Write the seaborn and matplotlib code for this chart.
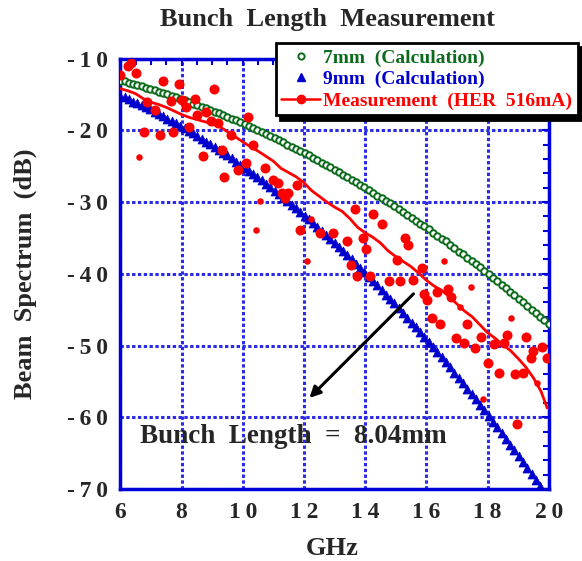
import numpy as np
import pandas as pd
import matplotlib
matplotlib.use("Agg")
import matplotlib.pyplot as plt
from matplotlib.lines import Line2D
from matplotlib.ticker import MultipleLocator
import seaborn as sns

# frequency grid of the two calculated spectra (GHz)
freq_calc = np.round(np.linspace(6, 20, 101), 2)

# 7mm gaussian bunch (dB)
calc_7mm = [-13.1, -13.2, -13.4, -13.5, -13.7, -13.9, -14.1, -14.2, -14.4, -14.6,
            -14.8, -15.0, -15.2, -15.4, -15.6, -15.8, -16.0, -16.3, -16.5, -16.7,
            -16.9, -17.2, -17.4, -17.6, -17.9, -18.1, -18.4, -18.6, -18.9, -19.1,
            -19.4, -19.7, -20.0, -20.2, -20.5, -20.8, -21.1, -21.4, -21.7, -22.0,
            -22.3, -22.6, -22.9, -23.2, -23.5, -23.8, -24.1, -24.5, -24.8, -25.1,
            -25.5, -25.8, -26.2, -26.5, -26.9, -27.2, -27.6, -27.9, -28.3, -28.7,
            -29.1, -29.4, -29.8, -30.2, -30.6, -31.0, -31.4, -31.8, -32.2, -32.6,
            -33.0, -33.4, -33.8, -34.3, -34.7, -35.1, -35.5, -36.0, -36.4, -36.9,
            -37.3, -37.8, -38.2, -38.7, -39.1, -39.6, -40.1, -40.6, -41.0, -41.5,
            -42.0, -42.5, -43.0, -43.5, -44.0, -44.5, -45.0, -45.5, -46.0, -46.5,
            -47.0]

# 9mm gaussian bunch (dB), runs off the bottom near 19.7 GHz
calc_9mm = [-15.2, -15.4, -15.7, -16.0, -16.2, -16.5, -16.8, -17.1, -17.4, -17.7,
            -18.0, -18.4, -18.7, -19.0, -19.4, -19.7, -20.1, -20.4, -20.8, -21.2,
            -21.6, -21.9, -22.3, -22.7, -23.1, -23.5, -23.9, -24.4, -24.8, -25.2,
            -25.7, -26.1, -26.5, -27.0, -27.5, -27.9, -28.4, -28.9, -29.4, -29.9,
            -30.4, -30.9, -31.4, -31.9, -32.4, -32.9, -33.5, -34.0, -34.6, -35.1,
            -35.7, -36.2, -36.8, -37.4, -38.0, -38.6, -39.2, -39.8, -40.4, -41.0,
            -41.6, -42.2, -42.9, -43.5, -44.1, -44.8, -45.4, -46.1, -46.8, -47.4,
            -48.1, -48.8, -49.5, -50.2, -50.9, -51.6, -52.3, -53.0, -53.8, -54.5,
            -55.2, -56.0, -56.7, -57.5, -58.3, -59.0, -59.8, -60.6, -61.4, -62.2,
            -63.0, -63.8, -64.6, -65.4, -66.2, -67.1, -67.9, -68.8, -69.6]

# measured spectrum, smoothed curve
meas_line_f = [6.0, 6.25, 6.5, 6.75, 7.0, 7.25, 7.5, 7.75, 8.0, 8.25, 8.5, 8.75,
               9.0, 9.25, 9.5, 9.75, 10.0, 10.25, 10.5, 10.75, 11.0, 11.25, 11.5,
               11.75, 12.0, 12.25, 12.5, 12.75, 13.0, 13.25, 13.5, 13.75, 14.0,
               14.25, 14.5, 14.75, 15.0, 15.25, 15.5, 15.75, 16.0, 16.25, 16.5,
               16.75, 17.0, 17.25, 17.5, 17.75, 18.0, 18.25, 18.5, 18.75, 19.0,
               19.25, 19.5, 19.75, 19.95]
meas_line_db = [-14.2, -14.5, -14.9, -15.6, -16.1, -16.4, -16.8, -17.3, -17.8,
                -18.2, -18.5, -18.8, -19.1, -19.5, -20.2, -20.9, -21.6, -22.3,
                -22.9, -23.6, -24.3, -25.3, -25.9, -26.5, -27.3, -28.4, -29.2,
                -30.0, -30.7, -31.3, -32.3, -33.5, -34.3, -34.9, -35.7, -36.8,
                -37.6, -38.3, -39.0, -39.9, -40.9, -41.7, -42.3, -43.2, -44.2,
                -45.2, -46.0, -47.1, -48.2, -49.0, -49.9, -50.7, -51.8, -53.0,
                -54.5, -56.4, -58.7]

# measured points
meas_f = [6.0, 6.26, 6.34, 6.51, 7.38, 7.92, 9.06, 6.87, 7.65, 8.0, 8.44, 7.13,
          8.16, 8.81, 8.52, 8.95, 9.18, 10.16, 6.76, 7.30, 7.73, 8.25, 9.61, 10.35,
          6.61, 8.69, 9.31, 9.39, 9.86, 10.1, 10.73, 11.0, 11.16, 11.27, 11.49,
          11.38, 10.57, 11.76, 10.43, 11.87, 12.22, 12.09, 12.53, 12.96, 13.4,
          13.67, 13.92, 14.03, 14.27, 14.54, 15.3, 15.41, 15.05, 13.53, 13.75,
          14.16, 14.79, 15.14, 15.58, 15.85, 16.58, 15.92, 16.03, 16.36, 16.72,
          16.8, 17.1, 17.45, 16.18, 16.45, 17.32, 16.97, 17.23, 17.59, 17.78,
          18.21, 18.54, 18.63, 18.76, 19.25, 19.77, 19.93, 19.41, 19.5, 18.03,
          18.38, 18.9, 19.15, 19.63, 17.84, 18.97]
meas_db = [-12.3, -11.1, -10.6, -12.0, -13.1, -13.6, -14.3, -16.1, -15.9, -15.8,
           -15.7, -17.2, -16.7, -17.5, -17.9, -18.7, -19.0, -18.1, -20.2, -20.6,
           -20.2, -19.5, -20.6, -22.0, -23.7, -23.6, -22.8, -26.5, -25.5, -24.5,
           -25.3, -26.9, -27.4, -28.8, -28.8, -29.5, -29.9, -27.6, -33.9, -33.9,
           -32.3, -38.2, -34.3, -34.3, -35.4, -31.0, -35.0, -36.6, -31.7, -33.1,
           -35.0, -36.0, -38.1, -38.8, -40.3, -40.3, -41.0, -41.0, -40.8, -39.2,
           -38.2, -42.8, -43.6, -42.5, -42.1, -43.3, -44.6, -41.8, -46.2, -47.0,
           -47.0, -49.0, -49.6, -50.3, -48.8, -49.8, -49.6, -48.5, -46.2, -48.8,
           -50.2, -51.8, -51.8, -50.8, -52.5, -53.8, -53.9, -53.8, -55.2, -57.5,
           -61.0]
# points that are drawn as the smaller dots
meas_small = [24, 36, 38, 40, 41, 60, 66, 67, 78, 88, 89]

x_ticks = [6, 8, 10, 12, 14, 16, 18, 20]
y_ticks = [-70, -60, -50, -40, -30, -20, -10]
y_ticklabels = ["-\u20097\u20090", "-\u20096\u20090", "-\u20095\u20090",
                "-\u20094\u20090", "-\u20093\u20090", "-\u20092\u20090",
                "-\u20091\u20090"]
x_ticklabels = ["6", "8", "1\u20090", "1\u20092", "1\u20094", "1\u20096",
                "1\u20098", "2\u20090"]

GREEN = "#0d6b1c"
BLUE = "#0000cc"
RED = "#ff0000"
FRAME = "#0000d8"
GRID = "#2b2be8"

sns.set_theme(style="white")
plt.rcParams["font.family"] = ["Liberation Serif", "DejaVu Serif"]
plt.rcParams["font.weight"] = "bold"

df7 = pd.DataFrame({"f": freq_calc, "db": calc_7mm})
df9 = pd.DataFrame({"f": freq_calc[:len(calc_9mm)], "db": calc_9mm})
dline = pd.DataFrame({"f": meas_line_f, "db": meas_line_db})
dpts = pd.DataFrame({"f": meas_f, "db": meas_db})
dpts["small"] = [i in meas_small for i in range(len(meas_f))]

fig = plt.figure(figsize=(5.82, 5.61), dpi=100)
ax = fig.add_axes([0.2067, 0.1283, 0.7361, 0.7674])

sns.scatterplot(data=df7, x="f", y="db", marker="o", s=22, color="white",
                edgecolor=GREEN, linewidth=1.4, ax=ax, zorder=3)
sns.scatterplot(data=df9, x="f", y="db", marker="^", s=42, color=BLUE,
                edgecolor=BLUE, linewidth=0.5, ax=ax, zorder=3)
sns.lineplot(data=dline, x="f", y="db", color=RED, lw=2.0, ax=ax, zorder=4,
             estimator=None, sort=False)
big = dpts[~dpts["small"]]
small = dpts[dpts["small"]]
sns.scatterplot(data=big, x="f", y="db", s=52, color=RED, linewidth=0,
                ax=ax, zorder=5)
sns.scatterplot(data=small, x="f", y="db", s=22, color=RED, linewidth=0,
                ax=ax, zorder=5)

ax.annotate("", xy=(12.18, -57.3), xytext=(15.58, -42.8),
            arrowprops=dict(arrowstyle="-|>", color="black", lw=2.2,
                            mutation_scale=16, shrinkA=0, shrinkB=0),
            zorder=6)
ax.text(6.65, -62.7, "Bunch  Length  =  8.04mm", fontsize=19.5,
        fontweight="bold", ha="left", va="center", zorder=6)

ax.set_xlim(6, 20)
ax.set_ylim(-70, -10)
ax.set_xticks(x_ticks)
ax.set_xticklabels(x_ticklabels)
ax.set_yticks(y_ticks)
ax.set_yticklabels(y_ticklabels)
ax.xaxis.set_minor_locator(MultipleLocator(0.5))
ax.yaxis.set_minor_locator(MultipleLocator(2))
ax.tick_params(which="both", direction="in", top=True, right=True,
               color=FRAME, width=1.5, labelsize=17)
ax.tick_params(which="major", length=5, pad=9)
ax.tick_params(which="minor", length=4)
ax.grid(True, which="major", color=GRID, lw=2.2, ls=(0, (1.1, 0.8)))
for sp in ax.spines.values():
    sp.set_color(FRAME)
    sp.set_linewidth(2.5)
ax.set_xlabel("")
ax.set_ylabel("")

fig.text(0.571, 0.023, "GHz", fontsize=19, fontweight="bold",
         ha="center", va="center")
fig.text(0.044, 0.512, "Beam  Spectrum  (dB)", fontsize=19,
         fontweight="bold", rotation=90, ha="center", va="center")
fig.text(0.562, 0.966, "Bunch  Length  Measurement", fontsize=19,
         fontweight="bold", ha="center", va="center")

handles = [
    Line2D([], [], ls="", marker="o", ms=4.5, mfc="white", mec=GREEN, mew=1.4),
    Line2D([], [], ls="", marker="^", ms=6, color=BLUE),
    Line2D([], [], ls="-", lw=1.8, marker="o", ms=6, color=RED),
]
labels = ["7mm  (Calculation)", "9mm  (Calculation)",
          "Measurement  (HER  516mA)"]
leg = fig.legend(handles, labels, loc="upper right",
                 bbox_to_anchor=(578 / 582, 1 - 43 / 561), borderaxespad=0,
                 fontsize=14, frameon=True, fancybox=False, framealpha=1,
                 edgecolor="black", labelspacing=0.2, handletextpad=0.15,
                 borderpad=0.3, handlelength=2.0,
                 shadow={"color": "black", "alpha": 1, "ox": 3, "oy": -3})
leg.get_frame().set_linewidth(2)
for txt, c in zip(leg.get_texts(), [GREEN, BLUE, RED]):
    txt.set_color(c)

fig.savefig("out.png", dpi=100)
